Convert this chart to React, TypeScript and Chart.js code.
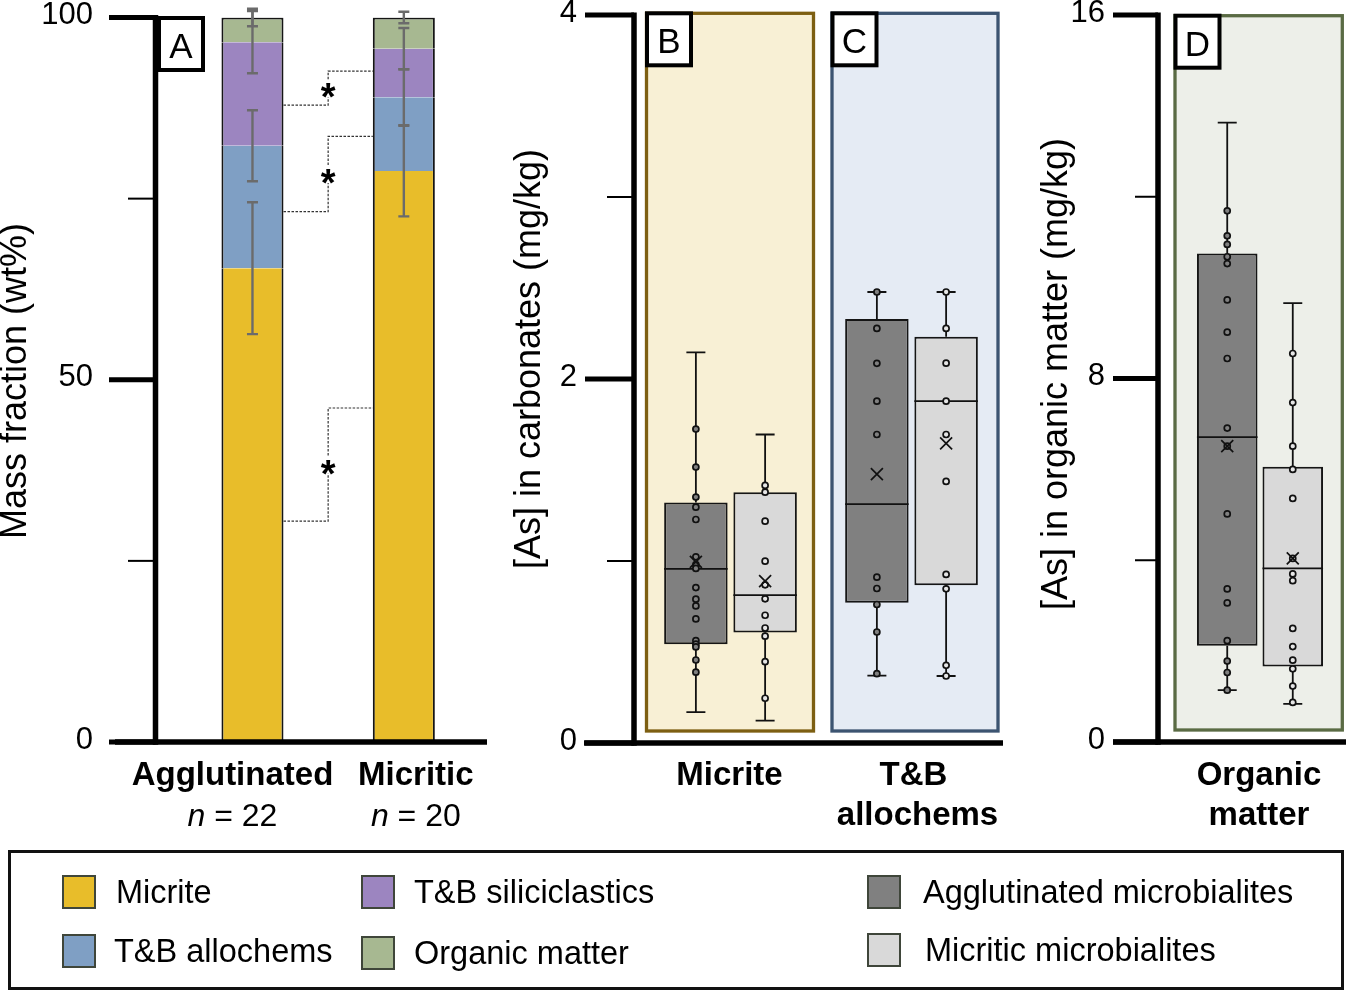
import React, { useEffect, useRef } from "react";
import { Chart, registerables } from "chart.js";

Chart.register(...registerables);

const FONT = '"Liberation Sans", Arial, Helvetica, sans-serif';

// ---------------- Panel A : mass fractions ----------------
const fractionCategories = ["Agglutinated", "Micritic"];
const sampleCounts = [22, 20];
const micriteFraction = [65.4, 78.8];
const allochemFraction = [16.9, 10.2];
const siliciclasticFraction = [14.3, 6.7];
const organicFraction = [3.4, 4.3];
const micriteSD = [9.1, 6.25];
const allochemSD = [4.9, 3.85];
const siliciclasticSD = [4.3, 2.85];
const organicSD = [1.2, 0.8];
const fractionTicks = [0, 25, 50, 75, 100];
const fractionTickLabels = ["0", "", "50", "", "100"];
const significanceFrom = [87.9, 73.2, 30.5];
const significanceTo = [92.6, 83.6, 46.1];

// ---------------- Panels B & C : [As] in carbonates ----------------
const carbonateCategories = ["Micrite", "T&B allochems"];
const carbonateLabelLines = [["Micrite"], ["T&B", "allochems"]];
const carbonateTicks = [0, 1, 2, 3, 4];
const carbonateTickLabels = ["0", "", "2", "", "4"];

const aggCarbMin = [0.17, 0.37];
const aggCarbQ1 = [0.543, 0.77];
const aggCarbMedian = [0.957, 1.312];
const aggCarbQ3 = [1.322, 2.329];
const aggCarbMax = [2.146, 2.478];
const aggCarbMean = [0.995, 1.477];
const aggCarbPointsMicrite = [1.725, 1.516, 1.351, 1.296, 1.228, 1.023, 0.98, 0.959, 0.854, 0.79, 0.753, 0.682, 0.563, 0.543, 0.528, 0.456, 0.389];
const aggCarbPointsAllochems = [2.478, 2.278, 2.086, 1.878, 1.695, 0.911, 0.849, 0.761, 0.61, 0.381];

const micCarbMin = [0.123, 0.368];
const micCarbQ1 = [0.607, 0.867];
const micCarbMedian = [0.812, 1.878];
const micCarbQ3 = [1.378, 2.232];
const micCarbMax = [1.695, 2.478];
const micCarbMean = [0.889, 1.646];
const micCarbPointsMicrite = [1.415, 1.378, 1.219, 0.999, 0.869, 0.792, 0.702, 0.632, 0.587, 0.447, 0.246];
const micCarbPointsAllochems = [2.478, 2.278, 2.087, 1.878, 1.695, 1.437, 0.926, 0.847, 0.427, 0.368];

// ---------------- Panel D : [As] in organic matter ----------------
const organicCategories = ["Organic matter"];
const organicLabelLines = [["Organic", "matter"]];
const organicTicks = [0, 4, 8, 12, 16];
const organicTickLabels = ["0", "", "8", "", "16"];

const aggOrgMin = [1.14];
const aggOrgQ1 = [2.12];
const aggOrgMedian = [6.71];
const aggOrgQ3 = [10.75];
const aggOrgMax = [13.63];
const aggOrgMean = [6.51];
const aggOrgPoints = [11.69, 11.14, 10.95, 10.68, 10.53, 9.73, 9.02, 8.44, 6.91, 6.51, 5.02, 3.37, 3.06, 2.23, 1.78, 1.53, 1.14];

const micOrgMin = [0.84];
const micOrgQ1 = [1.66];
const micOrgMedian = [3.82];
const micOrgQ3 = [6.06];
const micOrgMax = [9.66];
const micOrgMean = [4.04];
const micOrgPoints = [8.55, 7.47, 6.51, 6.0, 5.36, 4.04, 3.7, 3.55, 2.5, 2.1, 1.8, 1.61, 1.23, 0.87];

// ---------------- colours ----------------
const C_MICRITE = "#e8bd2a";
const C_ALLOCHEM = "#7f9fc4";
const C_SILICI = "#9c85c0";
const C_ORGANIC = "#a7b891";
const C_AGG = "#808080";
const C_MIC = "#d9d9d9";

type BoxGroup = {
  min: number[];
  q1: number[];
  median: number[];
  q3: number[];
  max: number[];
  mean: number[];
  points: number[][];
  pointFill: string;
};

type AxisSpec = {
  axisX: number;
  majorLeft: number;
  minorLeft: number;
  labelRight: number;
  xLineLeft: number;
  xLineRight: number;
  ticks: number[];
  labels: string[];
  title: string;
  titleX: number;
  titleY: number;
};

function drawRich(ctx: CanvasRenderingContext2D, parts: { text: string; font: string }[], cx: number, baseline: number) {
  const widths = parts.map((p) => {
    ctx.font = p.font;
    return ctx.measureText(p.text).width;
  });
  const total = widths.reduce((a, b) => a + b, 0);
  let x = cx - total / 2;
  ctx.textAlign = "left";
  ctx.textBaseline = "alphabetic";
  parts.forEach((p, k) => {
    ctx.font = p.font;
    ctx.fillText(p.text, x, baseline);
    x += widths[k];
  });
}

function drawAxes(chart: any, spec: AxisSpec) {
  const ctx: CanvasRenderingContext2D = chart.ctx;
  const y = chart.scales.y;
  const top = y.getPixelForValue(spec.ticks[spec.ticks.length - 1]);
  const zero = y.getPixelForValue(0);
  ctx.save();
  ctx.strokeStyle = "#000";
  ctx.lineCap = "butt";
  ctx.lineWidth = 5.5;
  ctx.beginPath();
  ctx.moveTo(spec.axisX, top - 2.5);
  ctx.lineTo(spec.axisX, zero + 2.75);
  ctx.stroke();
  ctx.lineWidth = 5.5;
  ctx.beginPath();
  ctx.moveTo(spec.xLineLeft, zero);
  ctx.lineTo(spec.xLineRight, zero);
  ctx.stroke();
  spec.ticks.forEach((v, i) => {
    const py = y.getPixelForValue(v);
    const major = spec.labels[i] !== "";
    ctx.lineWidth = major ? 5 : 2;
    ctx.beginPath();
    ctx.moveTo(major ? spec.majorLeft : spec.minorLeft, py);
    ctx.lineTo(spec.axisX, py);
    ctx.stroke();
    if (major) {
      ctx.fillStyle = "#000";
      ctx.font = `31px ${FONT}`;
      ctx.textAlign = "right";
      ctx.textBaseline = "middle";
      ctx.fillText(spec.labels[i], spec.labelRight, py - 2);
    }
  });
  ctx.save();
  ctx.translate(spec.titleX, spec.titleY);
  ctx.rotate(-Math.PI / 2);
  ctx.fillStyle = "#000";
  ctx.font = `36px ${FONT}`;
  ctx.textAlign = "center";
  ctx.textBaseline = "alphabetic";
  ctx.fillText(spec.title, 0, 0);
  ctx.restore();
  ctx.restore();
}

function drawLetterBox(ctx: CanvasRenderingContext2D, letter: string, left: number, top: number) {
  ctx.save();
  ctx.fillStyle = "#fff";
  ctx.fillRect(left, top, 44, 52);
  ctx.strokeStyle = "#000";
  ctx.lineWidth = 4;
  ctx.strokeRect(left, top, 44, 52);
  ctx.fillStyle = "#000";
  ctx.font = `35px ${FONT}`;
  ctx.textAlign = "center";
  ctx.textBaseline = "alphabetic";
  ctx.fillText(letter, left + 22, top + 40);
  ctx.restore();
}

function drawBoldCategoryLabels(chart: any, lines: string[][], shifts: number[][]) {
  const ctx: CanvasRenderingContext2D = chart.ctx;
  const x = chart.scales.x;
  ctx.save();
  ctx.fillStyle = "#000";
  lines.forEach((ls, i) => {
    const cx = x.getPixelForValue(i);
    ls.forEach((t, k) => {
      drawRich(ctx, [{ text: t, font: `bold 33px ${FONT}` }], cx + shifts[i][k], 785 + k * 40);
    });
  });
  ctx.restore();
}

function makeBoxPlugin(id: string, groups: BoxGroup[]) {
  return {
    id,
    afterDatasetsDraw(chart: any) {
      const ctx: CanvasRenderingContext2D = chart.ctx;
      const y = chart.scales.y;
      ctx.save();
      groups.forEach((g, di) => {
        const meta = chart.getDatasetMeta(di);
        meta.data.forEach((el: any, i: number) => {
          const x = el.x;
          const hw = el.width / 2;
          ctx.strokeStyle = "#111";
          ctx.lineWidth = 1.8;
          ctx.beginPath();
          ctx.moveTo(x, y.getPixelForValue(g.q3[i]));
          ctx.lineTo(x, y.getPixelForValue(g.max[i]));
          ctx.moveTo(x - 9.5, y.getPixelForValue(g.max[i]));
          ctx.lineTo(x + 9.5, y.getPixelForValue(g.max[i]));
          ctx.moveTo(x, y.getPixelForValue(g.q1[i]));
          ctx.lineTo(x, y.getPixelForValue(g.min[i]));
          ctx.moveTo(x - 9.5, y.getPixelForValue(g.min[i]));
          ctx.lineTo(x + 9.5, y.getPixelForValue(g.min[i]));
          ctx.stroke();
          ctx.beginPath();
          ctx.moveTo(x - hw, y.getPixelForValue(g.median[i]));
          ctx.lineTo(x + hw, y.getPixelForValue(g.median[i]));
          ctx.stroke();
          ctx.lineWidth = 1.7;
          g.points[i].forEach((v) => {
            ctx.beginPath();
            ctx.arc(x, y.getPixelForValue(v), 3, 0, Math.PI * 2);
            ctx.fillStyle = g.pointFill;
            ctx.fill();
            ctx.stroke();
          });
          const my = y.getPixelForValue(g.mean[i]);
          ctx.lineWidth = 1.7;
          ctx.beginPath();
          ctx.moveTo(x - 6, my - 6);
          ctx.lineTo(x + 6, my + 6);
          ctx.moveTo(x + 6, my - 6);
          ctx.lineTo(x - 6, my + 6);
          ctx.stroke();
        });
      });
      ctx.restore();
    },
  };
}

function makeFramePlugin(id: string, frames: { dl: number; dr: number; dt: number; db: number; fill: string; stroke: string; letter: string }[]) {
  return {
    id,
    beforeDatasetsDraw(chart: any) {
      const ctx: CanvasRenderingContext2D = chart.ctx;
      const x = chart.scales.x;
      const y = chart.scales.y;
      ctx.save();
      frames.forEach((f, i) => {
        const cx = x.getPixelForValue(i);
        const l = cx + f.dl;
        const r = cx + f.dr;
        const t = y.getPixelForValue(y.max) + f.dt;
        const b = y.getPixelForValue(0) + f.db;
        ctx.fillStyle = f.fill;
        ctx.fillRect(l, t, r - l, b - t);
        ctx.strokeStyle = f.stroke;
        ctx.lineWidth = 3.3;
        ctx.strokeRect(l, t, r - l, b - t);
      });
      ctx.restore();
    },
    afterDraw(chart: any) {
      const x = chart.scales.x;
      const y = chart.scales.y;
      frames.forEach((f, i) => {
        const cx = x.getPixelForValue(i);
        drawLetterBox(chart.ctx, f.letter, cx + f.dl + 0.5, y.getPixelForValue(y.max) + f.dt);
      });
    },
  };
}

function stackDataset(label: string, data: number[], color: string, isTop: boolean) {
  return {
    label,
    data,
    backgroundColor: color,
    borderColor: "#151515",
    borderWidth: { left: 2, right: 2, top: isTop ? 2 : 0, bottom: 0 },
    borderSkipped: false,
    barPercentage: 0.41,
    categoryPercentage: 1,
    inflateAmount: 0,
  };
}

function configA(): any {
  const panelAPlugin = {
    id: "panelA",
    afterDatasetsDraw(chart: any) {
      const ctx: CanvasRenderingContext2D = chart.ctx;
      const y = chart.scales.y;
      const meta = chart.getDatasetMeta(0);
      const segs = [micriteFraction, allochemFraction, siliciclasticFraction, organicFraction];
      const sds = [micriteSD, allochemSD, siliciclasticSD, organicSD];
      ctx.save();
      ctx.strokeStyle = "#6b6b6b";
      ctx.lineWidth = 2.4;
      meta.data.forEach((el: any, i: number) => {
        let cum = 0;
        segs.forEach((s, k) => {
          cum += s[i];
          const lo = y.getPixelForValue(cum - sds[k][i]);
          const hi = y.getPixelForValue(cum + sds[k][i]);
          ctx.beginPath();
          ctx.moveTo(el.x, lo);
          ctx.lineTo(el.x, hi);
          ctx.moveTo(el.x - 5.5, lo);
          ctx.lineTo(el.x + 5.5, lo);
          ctx.moveTo(el.x - 5.5, hi);
          ctx.lineTo(el.x + 5.5, hi);
          ctx.stroke();
        });
      });
      const left = meta.data[0] as any;
      const right = meta.data[1] as any;
      const x0 = left.x + left.width / 2;
      const x1 = right.x - right.width / 2;
      const xm = (x0 + x1) / 2;
      significanceFrom.forEach((v, k) => {
        const ya = y.getPixelForValue(v);
        const yb = y.getPixelForValue(significanceTo[k]);
        const ym = (ya + yb) / 2;
        ctx.strokeStyle = "#333";
        ctx.lineWidth = 1.2;
        ctx.setLineDash([2.5, 1.5]);
        ctx.beginPath();
        ctx.moveTo(x0, ya);
        ctx.lineTo(xm, ya);
        ctx.lineTo(xm, ym + 9);
        ctx.moveTo(xm, ym - 9);
        ctx.lineTo(xm, yb);
        ctx.lineTo(x1, yb);
        ctx.stroke();
        ctx.setLineDash([]);
        ctx.fillStyle = "#000";
        ctx.font = `bold 38px ${FONT}`;
        ctx.textAlign = "center";
        ctx.textBaseline = "alphabetic";
        ctx.fillText("*", xm, ym + 22);
      });
      ctx.restore();
    },
    afterDraw(chart: any) {
      drawAxes(chart, {
        axisX: 155.5,
        majorLeft: 109,
        minorLeft: 128,
        labelRight: 93,
        xLineLeft: 115,
        xLineRight: 487,
        ticks: fractionTicks,
        labels: fractionTickLabels,
        title: "Mass fraction (wt%)",
        titleX: 26,
        titleY: 381,
      });
      drawLetterBox(chart.ctx, "A", 159, 18);
      const ctx: CanvasRenderingContext2D = chart.ctx;
      const x = chart.scales.x;
      const shift = [-20, 12];
      ctx.save();
      ctx.fillStyle = "#000";
      fractionCategories.forEach((c, i) => {
        const cx = x.getPixelForValue(i) + shift[i];
        drawRich(ctx, [{ text: c, font: `bold 33px ${FONT}` }], cx, 785);
        drawRich(
          ctx,
          [
            { text: "n", font: `italic 32px ${FONT}` },
            { text: ` = ${sampleCounts[i]}`, font: `32px ${FONT}` },
          ],
          cx,
          826
        );
      });
      ctx.restore();
    },
  };
  return {
    type: "bar",
    data: {
      labels: fractionCategories,
      datasets: [
        stackDataset("Micrite", micriteFraction, C_MICRITE, false),
        stackDataset("T&B allochems", allochemFraction, C_ALLOCHEM, false),
        stackDataset("T&B siliciclastics", siliciclasticFraction, C_SILICI, false),
        stackDataset("Organic matter", organicFraction, C_ORGANIC, true),
      ],
    },
    options: {
      animation: false,
      responsive: false,
      events: [],
      layout: { padding: { left: 176.8, right: 1346 - 479.5, top: 17.5, bottom: 845 - 742 } },
      plugins: { legend: { display: false }, tooltip: { enabled: false } },
      scales: {
        x: { type: "category", stacked: true, display: false, offset: true },
        y: { type: "linear", stacked: true, display: false, min: 0, max: 100 },
      },
    },
    plugins: [panelAPlugin],
  };
}

function boxDataset(label: string, q1: number[], q3: number[], color: string, cat: number, bar: number) {
  return {
    label,
    data: q1.map((v, i) => [v, q3[i]]),
    backgroundColor: color,
    borderColor: "#151515",
    borderWidth: 2,
    borderSkipped: false,
    categoryPercentage: cat,
    barPercentage: bar,
  };
}

function configBC(): any {
  const groups: BoxGroup[] = [
    {
      min: aggCarbMin,
      q1: aggCarbQ1,
      median: aggCarbMedian,
      q3: aggCarbQ3,
      max: aggCarbMax,
      mean: aggCarbMean,
      points: [aggCarbPointsMicrite, aggCarbPointsAllochems],
      pointFill: "#808080",
    },
    {
      min: micCarbMin,
      q1: micCarbQ1,
      median: micCarbMedian,
      q3: micCarbQ3,
      max: micCarbMax,
      mean: micCarbMean,
      points: [micCarbPointsMicrite, micCarbPointsAllochems],
      pointFill: "#e6e6e6",
    },
  ];
  const frames = makeFramePlugin("framesBC", [
    { dl: -84, dr: 83, dt: -1.7, db: -12, fill: "#f8f0d5", stroke: "#7d5f12", letter: "B" },
    { dl: -79.5, dr: 86.5, dt: -1.7, db: -12, fill: "#e5ebf4", stroke: "#3c5471", letter: "C" },
  ]);
  const axes = {
    id: "axesBC",
    afterDraw(chart: any) {
      drawAxes(chart, {
        axisX: 634,
        majorLeft: 585,
        minorLeft: 607,
        labelRight: 577,
        xLineLeft: 584,
        xLineRight: 1003,
        ticks: carbonateTicks,
        labels: carbonateTickLabels,
        title: "[As] in carbonates (mg/kg)",
        titleX: 540,
        titleY: 359,
      });
      drawBoldCategoryLabels(chart, carbonateLabelLines, [[-1], [2, 6]]);
    },
  };
  return {
    type: "bar",
    data: {
      labels: carbonateCategories,
      datasets: [
        boxDataset("Agglutinated microbialites", aggCarbQ1, aggCarbQ3, C_AGG, 0.765, 0.917),
        boxDataset("Micritic microbialites", micCarbQ1, micCarbQ3, C_MIC, 0.765, 0.917),
      ],
    },
    options: {
      animation: false,
      responsive: false,
      events: [],
      layout: { padding: { left: 640, right: 1346 - 1002, top: 15, bottom: 845 - 743 } },
      plugins: { legend: { display: false }, tooltip: { enabled: false } },
      scales: {
        x: { type: "category", display: false, offset: true },
        y: { type: "linear", display: false, min: 0, max: 4 },
      },
    },
    plugins: [frames, makeBoxPlugin("boxBC", groups), axes],
  };
}

function configD(): any {
  const groups: BoxGroup[] = [
    {
      min: aggOrgMin,
      q1: aggOrgQ1,
      median: aggOrgMedian,
      q3: aggOrgQ3,
      max: aggOrgMax,
      mean: aggOrgMean,
      points: [aggOrgPoints],
      pointFill: "#808080",
    },
    {
      min: micOrgMin,
      q1: micOrgQ1,
      median: micOrgMedian,
      q3: micOrgQ3,
      max: micOrgMax,
      mean: micOrgMean,
      points: [micOrgPoints],
      pointFill: "#e6e6e6",
    },
  ];
  const frames = makeFramePlugin("framesD", [
    { dl: -85, dr: 82.3, dt: 0.7, db: -12, fill: "#edefe9", stroke: "#5a6b44", letter: "D" },
  ]);
  const axes = {
    id: "axesD",
    afterDraw(chart: any) {
      drawAxes(chart, {
        axisX: 1158,
        majorLeft: 1113,
        minorLeft: 1135,
        labelRight: 1105,
        xLineLeft: 1113,
        xLineRight: 1346,
        ticks: organicTicks,
        labels: organicTickLabels,
        title: "[As] in organic matter (mg/kg)",
        titleX: 1067,
        titleY: 374,
      });
      drawBoldCategoryLabels(chart, organicLabelLines, [[-1, -1]]);
    },
  };
  return {
    type: "bar",
    data: {
      labels: organicCategories,
      datasets: [
        boxDataset("Agglutinated microbialites", aggOrgQ1, aggOrgQ3, C_AGG, 0.762, 0.924),
        boxDataset("Micritic microbialites", micOrgQ1, micOrgQ3, C_MIC, 0.762, 0.924),
      ],
    },
    options: {
      animation: false,
      responsive: false,
      events: [],
      layout: { padding: { left: 1174, right: 0, top: 15, bottom: 845 - 742 } },
      plugins: { legend: { display: false }, tooltip: { enabled: false } },
      scales: {
        x: { type: "category", display: false, offset: true },
        y: { type: "linear", display: false, min: 0, max: 16 },
      },
    },
    plugins: [frames, makeBoxPlugin("boxD", groups), axes],
  };
}

function LegendItem(props: { color: string; label: string; left: number; top: number; textLeft: number }) {
  return (
    <>
      <div
        style={{
          position: "absolute",
          left: props.left,
          top: props.top,
          width: 34,
          height: 34,
          boxSizing: "border-box",
          border: "2px solid #3f463a",
          background: props.color,
        }}
      />
      <div
        style={{
          position: "absolute",
          left: props.textLeft,
          top: props.top + 17 - 20,
          height: 40,
          lineHeight: "40px",
          fontSize: 32.5,
          fontFamily: FONT,
          color: "#000",
          whiteSpace: "nowrap",
        }}
      >
        {props.label}
      </div>
    </>
  );
}

export default function App() {
  const refA = useRef<HTMLCanvasElement>(null);
  const refBC = useRef<HTMLCanvasElement>(null);
  const refD = useRef<HTMLCanvasElement>(null);

  useEffect(() => {
    document.body.style.margin = "0";
    const charts = [
      new Chart(refA.current as HTMLCanvasElement, configA()),
      new Chart(refBC.current as HTMLCanvasElement, configBC()),
      new Chart(refD.current as HTMLCanvasElement, configD()),
    ];
    return () => charts.forEach((c) => c.destroy());
  }, []);

  const canvasStyle: React.CSSProperties = { position: "absolute", left: 0, top: 0, width: 1346, height: 845 };

  return (
    <div
      style={{
        position: "absolute",
        left: 0,
        top: 0,
        width: 1346,
        height: 991,
        background: "#fff",
        overflow: "hidden",
        fontFamily: FONT,
      }}
    >
      <canvas ref={refA} width={1346} height={845} style={canvasStyle} />
      <canvas ref={refBC} width={1346} height={845} style={canvasStyle} />
      <canvas ref={refD} width={1346} height={845} style={canvasStyle} />
      <div
        style={{
          position: "absolute",
          left: 8,
          top: 850,
          width: 1336,
          height: 140,
          boxSizing: "border-box",
          border: "3px solid #111",
        }}
      />
      <LegendItem color={C_MICRITE} label="Micrite" left={62} top={875} textLeft={116} />
      <LegendItem color={C_ALLOCHEM} label="T&B allochems" left={62} top={934} textLeft={114} />
      <LegendItem color={C_SILICI} label="T&B siliciclastics" left={361} top={875} textLeft={414} />
      <LegendItem color={C_ORGANIC} label="Organic matter" left={361} top={936} textLeft={414} />
      <LegendItem color={C_AGG} label="Agglutinated microbialites" left={867} top={875} textLeft={923} />
      <LegendItem color={C_MIC} label="Micritic microbialites" left={867} top={933} textLeft={925} />
    </div>
  );
}
